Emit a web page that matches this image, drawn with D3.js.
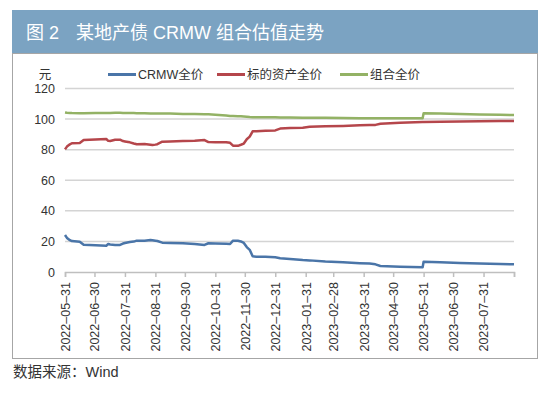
<!DOCTYPE html>
<html>
<head>
<meta charset="utf-8">
<script src="https://cdn.jsdelivr.net/npm/d3@7"></script>
<style>
  body { margin: 0; background: #fff; }
  text { font-family: "Liberation Sans", Arial, "Noto Sans CJK SC", sans-serif; }
</style>
</head>
<body>
<script>

// ---- data ----
var dates = [
  "2022-05-31","2022-06-02","2022-06-05","2022-06-07","2022-06-15","2022-06-19","2022-07-01",
  "2022-07-12","2022-07-14","2022-07-16","2022-07-21","2022-07-26","2022-07-29","2022-07-31",
  "2022-08-05","2022-08-09","2022-08-12","2022-08-20","2022-08-26","2022-08-28","2022-08-31",
  "2022-09-02","2022-09-07","2022-09-15","2022-09-28","2022-10-10","2022-10-20","2022-10-24",
  "2022-10-31","2022-11-11","2022-11-15","2022-11-18","2022-11-23","2022-11-26","2022-11-29",
  "2022-12-02","2022-12-05","2022-12-08","2022-12-12","2022-12-21","2022-12-31","2023-01-05",
  "2023-01-15","2023-01-28","2023-02-04","2023-02-20","2023-03-10","2023-03-27","2023-04-06",
  "2023-04-12","2023-04-17","2023-05-07","2023-05-30","2023-05-31","2023-06-17","2023-07-07",
  "2023-07-27","2023-08-17","2023-08-31"
];

var crmw = [
  24.2, 22.3, 20.8, 20.2, 19.8, 17.8, 17.5,
  17.2, 18.3, 18.0, 17.7, 17.7, 18.6, 19.0,
  19.6, 19.9, 20.5, 20.5, 20.9, 20.8, 20.5,
  20.3, 19.2, 19.0, 18.8, 18.3, 17.7, 18.8,
  18.6, 18.4, 18.3, 20.5, 20.4, 20.0, 19.0,
  16.3, 14.5, 10.3, 10.0, 10.0, 9.6, 9.0,
  8.5, 7.8, 7.6, 6.8, 6.3, 5.8, 5.5,
  5.0, 3.9, 3.4, 3.1, 6.7, 6.4, 5.9,
  5.5, 5.2, 5.0
];

var asset = [
  80.2, 82.0, 83.5, 84.2, 84.3, 86.3, 86.6,
  87.0, 85.8, 85.7, 86.5, 86.5, 85.6, 85.4,
  84.8, 84.0, 83.5, 83.7, 83.2, 83.0, 83.3,
  83.6, 85.2, 85.3, 85.6, 85.9, 86.3, 85.0,
  84.9, 84.9, 84.5, 82.6, 82.5, 83.2, 84.0,
  86.8, 88.5, 92.0, 92.0, 92.3, 92.6, 93.8,
  94.1, 94.4, 95.0, 95.3, 95.5, 95.9, 96.1,
  96.2, 97.0, 97.6, 98.1, 98.1, 98.3, 98.5,
  98.6, 98.7, 98.8
];

var combo = [
  104.3, 104.1, 104.0, 103.9, 103.8, 103.8, 103.9,
  104.0, 104.0, 104.0, 104.1, 104.1, 104.0, 104.0,
  103.9, 103.9, 103.8, 103.8, 103.7, 103.7, 103.7,
  103.7, 103.6, 103.6, 103.4, 103.3, 103.2, 103.1,
  102.9, 102.3, 102.0, 102.0, 101.9, 101.9, 101.7,
  101.5, 101.3, 101.2, 101.2, 101.2, 101.2, 101.1,
  101.0, 100.9, 100.9, 100.8, 100.7, 100.6, 100.5,
  100.5, 100.5, 100.5, 100.5, 103.8, 103.6, 103.3,
  103.0, 102.8, 102.7
];

var seriesNames = ["CRMW全价", "标的资产全价", "组合全价"];
var seriesColors = ["#4a75a8", "#b5464b", "#93b265"];

var tickDates = [
  "2022-05-31","2022-06-30","2022-07-31","2022-08-31","2022-09-30","2022-10-31","2022-11-30",
  "2022-12-31","2023-01-31","2023-02-28","2023-03-31","2023-04-30","2023-05-31","2023-06-30",
  "2023-07-31","2023-08-31"
];
var yTicks = [0, 20, 40, 60, 80, 100, 120];

// ---- layout ----
var W = 550, H = 396;
var margin = {top: 88.5, right: 36, bottom: 124, left: 65};
var width = W - margin.left - margin.right,
    height = H - margin.top - margin.bottom;

var parse = d3.timeParse("%Y-%m-%d");

var svg = d3.select("body").append("svg")
    .attr("width", W)
    .attr("height", H);

// title bar + frame
svg.append("rect")
    .attr("x", 12.5).attr("y", 53.5)
    .attr("width", 525).attr("height", 305)
    .attr("fill", "none")
    .attr("stroke", "#a6a6a6")
    .attr("stroke-width", 1);

svg.append("rect")
    .attr("x", 12).attr("y", 10)
    .attr("width", 526).attr("height", 43)
    .attr("fill", "#7ba3c2");

svg.append("text")
    .attr("x", 26).attr("y", 39)
    .attr("fill", "#fff")
    .style("font-size", "18px")
    .text("图 2");

svg.append("text")
    .attr("x", 76).attr("y", 39)
    .attr("fill", "#fff")
    .style("font-size", "18px")
    .text("某地产债 CRMW 组合估值走势");

svg.append("text")
    .attr("x", 13).attr("y", 377)
    .attr("fill", "#333")
    .style("font-size", "14.5px")
    .text("数据来源：Wind");

var g = svg.append("g")
    .attr("transform", "translate(" + margin.left + "," + margin.top + ")");

var x = d3.scaleTime()
    .domain([parse(tickDates[0]), parse(tickDates[tickDates.length - 1])])
    .range([0, width]);

var y = d3.scaleLinear()
    .domain([0, 120])
    .range([height, 0]);

// gridlines
g.selectAll(".grid")
    .data(yTicks.slice(1))
    .enter().append("line")
    .attr("class", "grid")
    .attr("x1", 0).attr("x2", width)
    .attr("y1", function(d) { return y(d); })
    .attr("y2", function(d) { return y(d); })
    .attr("stroke", "#d4d4d4")
    .attr("stroke-width", 1.5);

// y axis labels
var yAxis = d3.axisLeft(y).tickValues(yTicks).tickSize(0).tickPadding(10);
g.append("g")
    .call(yAxis)
    .call(function(s) {
      s.select(".domain").remove();
      s.selectAll("text")
        .style("font-size", "12.5px")
        .attr("fill", "#333")
        .style("font-family", "'Liberation Sans', Arial, sans-serif");
    });

g.append("text")
    .attr("x", -20).attr("y", -10)
    .attr("text-anchor", "middle")
    .attr("fill", "#333")
    .style("font-size", "12.5px")
    .text("元");

// x axis
var xAxis = d3.axisBottom(x)
    .tickValues(tickDates.map(parse))
    .tickSize(5)
    .tickFormat(function(d, i) {
      return i === tickDates.length - 1 ? "" : d3.timeFormat("%Y–%m–%d")(d);
    });

var xg = g.append("g")
    .attr("transform", "translate(0," + height + ")")
    .call(xAxis);

xg.select(".domain").attr("stroke", "#bfbfbf").attr("stroke-width", 1.5);
xg.selectAll(".tick line").attr("stroke", "#bfbfbf").attr("stroke-width", 1.5);
xg.selectAll(".tick text")
    .style("font-size", "12.5px")
    .style("font-family", "'Liberation Sans', Arial, sans-serif")
    .attr("fill", "#333")
    .attr("text-anchor", "end")
    .attr("transform", "rotate(-90)")
    .attr("x", -10)
    .attr("y", 0)
    .attr("dy", "0.35em");

// lines
var allSeries = [crmw, asset, combo];
var line = d3.line()
    .x(function(d, i) { return x(parse(dates[i])); })
    .y(function(d) { return y(d); });

g.selectAll(".series")
    .data(allSeries)
    .enter().append("path")
    .attr("class", "series")
    .attr("d", line)
    .attr("fill", "none")
    .attr("stroke", function(d, i) { return seriesColors[i]; })
    .attr("stroke-width", 2.5)
    .attr("stroke-linejoin", "round");

// legend
var legendX = [108, 217, 340];
var legend = svg.selectAll(".legend")
    .data(seriesNames)
    .enter().append("g")
    .attr("class", "legend")
    .attr("transform", function(d, i) { return "translate(" + legendX[i] + ",74.5)"; });

legend.append("line")
    .attr("x1", 0).attr("x2", 28)
    .attr("stroke", function(d, i) { return seriesColors[i]; })
    .attr("stroke-width", 3);

legend.append("text")
    .attr("x", 30).attr("y", 0)
    .attr("dy", "0.36em")
    .attr("fill", "#333")
    .style("font-size", "12.5px")
    .text(function(d) { return d; });

</script>
</body>
</html>
